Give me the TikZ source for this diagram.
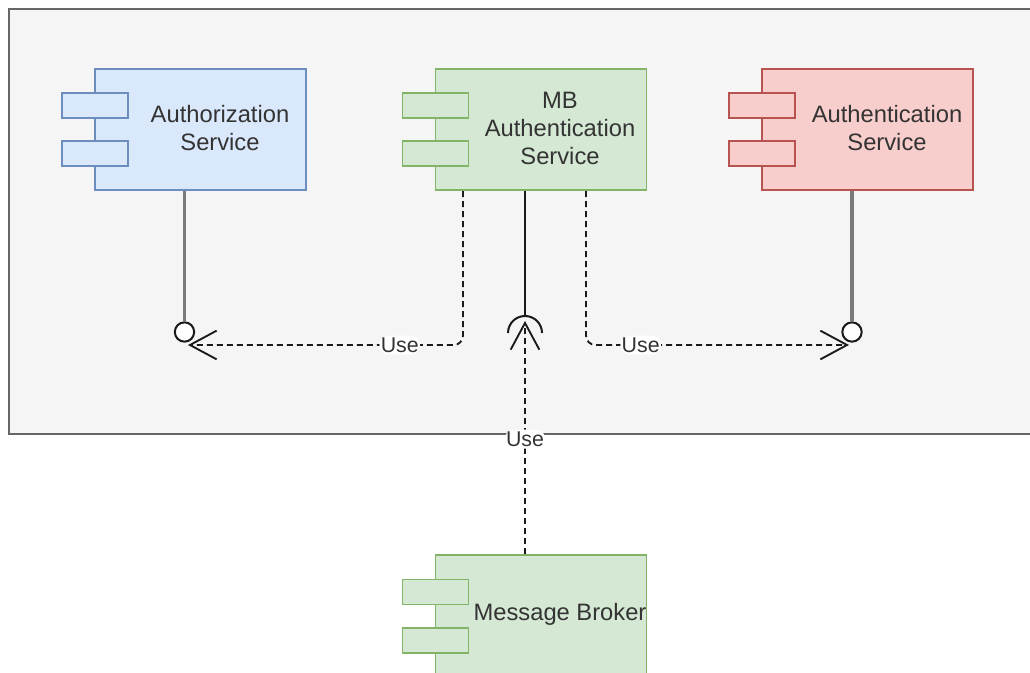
\documentclass[tikz,border=0pt]{standalone}
\usepackage{fontspec}
\setmainfont{Liberation Sans}
\usetikzlibrary{arrows.meta}
\definecolor{frameFill}{HTML}{F5F5F5}
\definecolor{frameLine}{HTML}{666666}
\definecolor{stemLine}{HTML}{7A7A7A}
\definecolor{blueFill}{HTML}{DAE8FC}
\definecolor{blueLine}{HTML}{6C8EBF}
\definecolor{greenFill}{HTML}{D5E8D4}
\definecolor{greenLine}{HTML}{82B366}
\definecolor{redFill}{HTML}{F8CECC}
\definecolor{redLine}{HTML}{B85450}
\definecolor{txt}{HTML}{333333}
\definecolor{ink}{HTML}{1A1A1A}

\tikzset{
  body/.style={draw, line width=1.4pt, rectangle, minimum width=158.25pt,
    minimum height=91pt, inner sep=0pt},
  tab/.style={draw, line width=1.4pt, rectangle, minimum width=49.5pt,
    minimum height=18.75pt, inner sep=0pt},
  compname/.style={text=txt, font=\fontsize{17.8}{21}\selectfont, align=center, inner sep=0pt},
  uselabel/.style={fill=white, text=txt, font=\fontsize{16}{18}\selectfont,
    inner xsep=1pt, inner ysep=1.5pt},
  usedep/.style={draw=ink, line width=1.4pt, dash pattern=on 4.5pt off 3pt,
    rounded corners=7pt,
    -{Straight Barb[length=20pt,width=21.5pt,line width=1.4pt]}},
  lolly/.style={draw=stemLine, line width=2.5pt},
  ball/.style={circle, draw=ink, fill=white, line width=1.5pt,
    minimum size=14.5pt, inner sep=0pt},
  socketline/.style={draw=ink, line width=1.5pt},
}

\begin{document}
\begin{tikzpicture}[x=0.75pt, y=-0.75pt]
  \clip (0,0) rectangle (1030,673);

  % container
  \node[draw=frameLine, fill=frameFill, line width=1.5pt, rectangle,
        minimum width=777pt, minimum height=318.75pt, inner sep=0pt,
        anchor=north west] (frame) at (8,8) {};

  % Authorization Service
  \node[body, draw=blueLine, fill=blueFill] (authz) at (200.5,129.5) {};
  \node[tab, draw=blueLine, fill=blueFill] (authzT1) at (95,105.5) {};
  \node[tab, draw=blueLine, fill=blueFill] (authzT2) at (95,153.5) {};
  \node[compname] (authzN) at (220,128) {Authorization\\Service};

  % MB Authentication Service
  \node[body, draw=greenLine, fill=greenFill] (mba) at (541,129.5) {};
  \node[tab, draw=greenLine, fill=greenFill] (mbaT1) at (435.5,105.5) {};
  \node[tab, draw=greenLine, fill=greenFill] (mbaT2) at (435.5,153.5) {};
  \node[compname] (mbaN) at (560,128) {MB\\Authentication\\Service};

  % Authentication Service
  \node[body, draw=redLine, fill=redFill] (authn) at (867.5,129.5) {};
  \node[tab, draw=redLine, fill=redFill] (authnT1) at (762,105.5) {};
  \node[tab, draw=redLine, fill=redFill] (authnT2) at (762,153.5) {};
  \node[compname] (authnN) at (887,128) {Authentication\\Service};

  % Message Broker
  \node[body, draw=greenLine, fill=greenFill] (mb) at (541,616) {};
  \node[tab, draw=greenLine, fill=greenFill] (mbT1) at (435.5,592) {};
  \node[tab, draw=greenLine, fill=greenFill] (mbT2) at (435.5,640.5) {};
  \node[compname] (mbN) at (560,614) {Message Broker};

  % provided interfaces (lollipops)
  \node[ball] (ballL) at (184.5,332) {};
  \node[ball] (ballR) at (852,332) {};
  \draw[lolly] (ballL.north) -- (ballL.north |- authz.south);
  \draw[lolly] (ballR.north) -- (ballR.north |- authn.south);

  % required interface (socket)
  \coordinate (sock) at (525,333);
  \coordinate (sockTop) at (525,316);
  \draw[socketline] (sock) ++(17,0) arc (0:-180:17);
  \draw[socketline] (sockTop) -- (sockTop |- mba.south);

  % usage dependencies
  \coordinate (depL) at (463,0);
  \coordinate (depR) at (586,0);
  \coordinate (tipL) at (188,345);
  \coordinate (tipR) at (849,345);
  \coordinate (tipC) at (525,321);

  \draw[usedep] (depL |- mba.south) |- (tipL)
    node[uselabel, pos=0.615] (useL) {Use};
  \draw[usedep] (depR |- mba.south) |- (tipR)
    node[uselabel, pos=0.604] (useR) {Use};
  \draw[usedep] (tipC |- mb.north) -- (tipC)
    node[uselabel, pos=0.494] (useC) {Use};
\end{tikzpicture}
\end{document}
